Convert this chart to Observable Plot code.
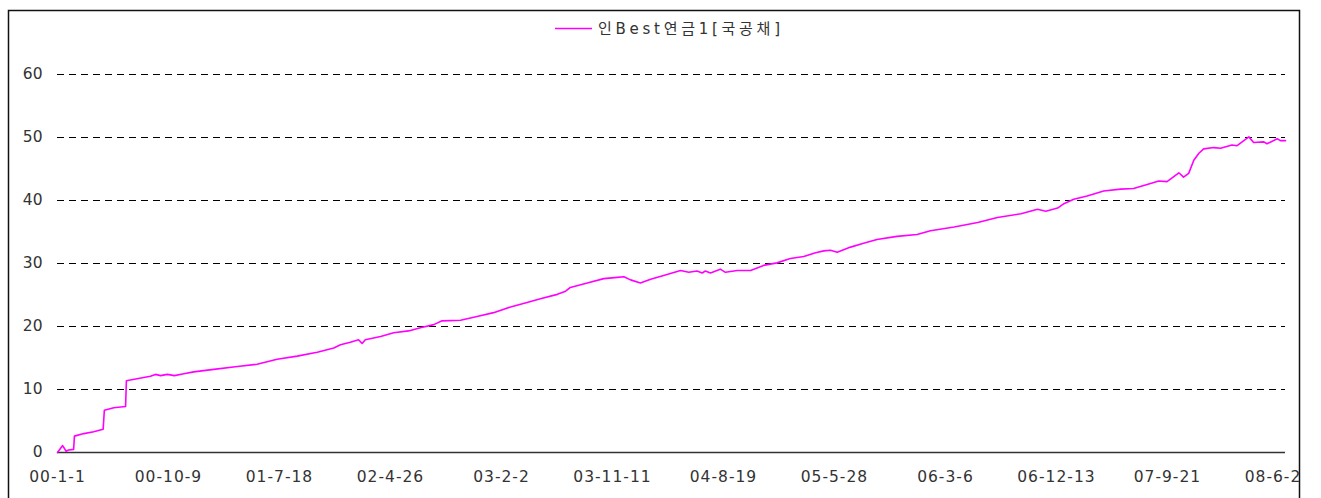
<!DOCTYPE html>
<html>
<head>
<meta charset="utf-8">
<script src="https://cdn.jsdelivr.net/npm/d3@7"></script>
<script src="https://cdn.jsdelivr.net/npm/@observablehq/plot@0.6"></script>
<style>
  body { margin: 0; background: #fff; }
</style>
</head>
<body>
<div id="chart"></div>
<script>
const seriesName = "인Best연금1[국공채]";

const dates = [
  "2000-01-01","2000-01-14","2000-01-23","2000-01-29","2000-02-11","2000-02-13","2000-03-08","2000-04-02",
  "2000-04-26","2000-04-29","2000-05-23","2000-06-22","2000-06-24","2000-07-21","2000-08-24","2000-09-06",
  "2000-09-19","2000-10-06","2000-10-24","2000-11-17","2000-12-12","2001-02-01","2001-03-28","2001-05-22",
  "2001-07-12","2001-09-01","2001-10-22","2001-12-03","2001-12-20","2002-01-14","2002-02-04","2002-02-13",
  "2002-02-21","2002-04-01","2002-05-04","2002-06-11","2002-07-11","2002-08-14","2002-09-04","2002-10-21",
  "2002-12-02","2003-01-13","2003-02-25","2003-04-08","2003-05-12","2003-06-24","2003-07-15","2003-07-27",
  "2003-09-08","2003-10-20","2003-11-23","2003-12-10","2003-12-27","2004-01-21","2004-02-16","2004-03-20",
  "2004-05-02","2004-05-23","2004-06-13","2004-06-26","2004-07-04","2004-07-17","2004-08-11","2004-08-24",
  "2004-09-23","2004-10-27","2004-11-29","2005-01-02","2005-02-05","2005-03-11","2005-04-10","2005-05-01",
  "2005-05-18","2005-06-04","2005-07-08","2005-08-10","2005-09-13","2005-11-03","2005-12-24","2006-01-27",
  "2006-03-28","2006-05-27","2006-07-16","2006-09-14","2006-10-26","2006-11-16","2006-12-16","2007-01-01",
  "2007-01-26","2007-03-01","2007-04-12","2007-05-25","2007-06-27","2007-08-09","2007-08-30","2007-09-20",
  "2007-10-20","2007-11-01","2007-11-14","2007-11-27","2007-12-10","2007-12-22","2008-01-17","2008-02-03",
  "2008-03-03","2008-03-16","2008-04-15","2008-04-27","2008-05-23","2008-05-31","2008-06-26","2008-07-04",
  "2008-07-17"
];

const values = [
  0.0, 1.1, 0.2, 0.4, 0.5, 2.6, 3.0, 3.3,
  3.7, 6.7, 7.1, 7.3, 11.4, 11.7, 12.1, 12.4,
  12.2, 12.4, 12.2, 12.5, 12.8, 13.2, 13.6, 14.0,
  14.8, 15.3, 15.9, 16.6, 17.1, 17.5, 17.9, 17.3,
  17.9, 18.4, 19.0, 19.3, 19.8, 20.3, 20.9, 21.0,
  21.6, 22.2, 23.1, 23.8, 24.4, 25.1, 25.6, 26.2,
  26.9, 27.6, 27.8, 27.9, 27.4, 26.9, 27.5, 28.1,
  28.9, 28.6, 28.8, 28.5, 28.8, 28.5, 29.1, 28.6,
  28.9, 28.9, 29.7, 30.1, 30.8, 31.1, 31.7, 32.0,
  32.1, 31.8, 32.6, 33.2, 33.8, 34.3, 34.6, 35.2,
  35.8, 36.5, 37.3, 37.9, 38.6, 38.3, 38.8, 39.5,
  40.2, 40.7, 41.5, 41.8, 41.9, 42.7, 43.1, 43.0,
  44.4, 43.7, 44.3, 46.4, 47.5, 48.2, 48.4, 48.3,
  48.8, 48.7, 50.1, 49.2, 49.3, 49.0, 49.8, 49.5,
  49.5
];

const tickDates = [
  "2000-01-01","2000-10-09","2001-07-18","2002-04-26","2003-02-02","2003-11-11",
  "2004-08-19","2005-05-28","2006-03-06","2006-12-13","2007-09-21","2008-06-29"
];
const tickLabels = [
  "00-1-1","00-10-9","01-7-18","02-4-26","03-2-2","03-11-11",
  "04-8-19","05-5-28","06-3-6","06-12-13","07-9-21","08-6-29"
];
const yTicks = [0, 10, 20, 30, 40, 50, 60];
const xEnd = "2008-07-17";

const data = dates.map((d, i) => ({date: new Date(d), value: values[i]}));
const labelByTime = new Map(tickDates.map((d, i) => [+new Date(d), tickLabels[i]]));

const chart = Plot.plot({
  width: 1321,
  height: 498,
  marginLeft: 57,
  marginRight: 36,
  marginTop: 74,
  marginBottom: 46,
  style: {
    fontFamily: "'DejaVu Sans','Noto Sans CJK KR',sans-serif",
    fontSize: "15.5px",
    color: "#333",
    background: "#fff",
    overflow: "hidden"
  },
  x: {
    type: "utc",
    domain: [new Date(dates[0]), new Date(xEnd)],
    ticks: tickDates.map(d => new Date(d)),
    tickFormat: d => labelByTime.get(+d),
    tickSize: 0,
    tickPadding: 18,
    label: null
  },
  y: {
    domain: [0, 60],
    ticks: yTicks,
    tickSize: 0,
    tickPadding: 15,
    label: null
  },
  marks: [
    Plot.ruleY(yTicks.filter(v => v > 0), {stroke: "#000", strokeWidth: 1, strokeDasharray: "7,5"}),
    Plot.ruleY([0], {stroke: "#333", strokeWidth: 1.5}),
    Plot.lineY(data, {x: "date", y: "value", stroke: "#ff00ff", strokeWidth: 1.6})
  ]
});

document.getElementById("chart").appendChild(chart);

const svg = d3.select(chart);
svg.selectAll('g[aria-label="x-axis tick label"] text').attr("letter-spacing", 1);

// clip area right of the frame
svg.append("rect").attr("x", 1300).attr("y", 0).attr("width", 30).attr("height", 498).attr("fill", "#fff");
// outer frame
svg.append("rect")
  .attr("x", 8.5).attr("y", 10.5).attr("width", 1291).attr("height", 600)
  .attr("fill", "none").attr("stroke", "#111").attr("stroke-width", 1.5);

// legend
const lg = svg.append("g").attr("text-anchor", "start");
lg.append("line").attr("x1", 555).attr("x2", 592).attr("y1", 28.5).attr("y2", 28.5)
  .attr("stroke", "#ff00ff").attr("stroke-width", 1.5);
lg.append("text").attr("x", 598).attr("y", 28.5).attr("dy", "0.35em")
  .attr("text-anchor", "start")
  .attr("font-size", 15).attr("fill", "#333")
  .attr("textLength", 182).attr("lengthAdjust", "spacing")
  .text(seriesName);
</script>
</body>
</html>
